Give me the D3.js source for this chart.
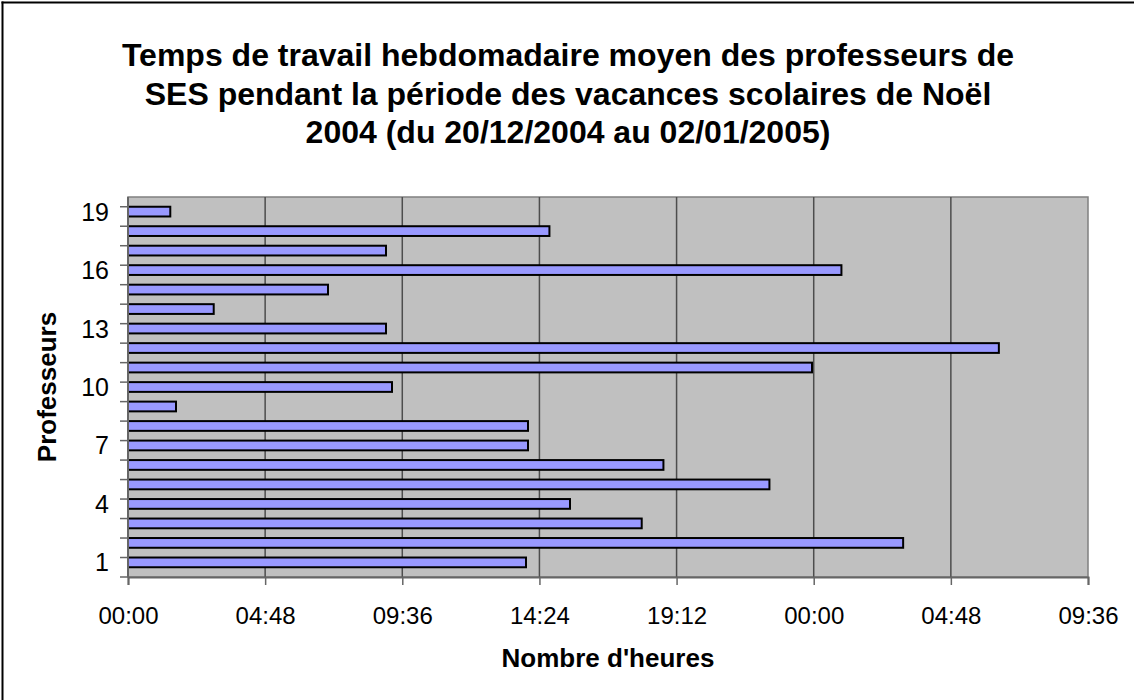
<!DOCTYPE html>
<meta charset="utf-8">
<script src="https://d3js.org/d3.v7.min.js"></script>
<style>
  body { margin: 0; background: #fff; font-family: Arial, "Liberation Sans", sans-serif; }
  svg { display: block; }
</style>
<div id="chart"></div>
<script>

// professors 1..19 and their average weekly hours (decimal hours)
var profs = d3.range(1, 20);
var hours = [13.93, 27.13, 17.98, 15.47, 22.45, 18.74, 14.0, 14.0, 1.68, 9.24,
             23.94, 30.48, 9.03, 3.0, 7.0, 24.97, 9.03, 14.75, 1.48];
var tickHours = [0, 4.8, 9.6, 14.4, 19.2, 24, 28.8, 33.6];
var yLabels = [1, 4, 7, 10, 13, 16, 19];
var titleLines = ["Temps de travail hebdomadaire moyen des professeurs de",
                  "SES pendant la période des vacances scolaires de Noël",
                  "2004 (du 20/12/2004 au 02/01/2005)"];

var W = 1134, H = 700;
var plot = {left: 128, right: 1088, top: 197, bottom: 577};

var svg = d3.select("#chart").append("svg")
    .attr("width", W).attr("height", H);

// frame (only top and left edges are visible)
svg.append("line").attr("x1", 2.5).attr("x2", 2.5).attr("y1", 1.5).attr("y2", H)
  .attr("stroke", "#000").attr("stroke-width", 2);
svg.append("line").attr("x1", 1.5).attr("x2", W).attr("y1", 2.5).attr("y2", 2.5)
  .attr("stroke", "#000").attr("stroke-width", 2);

// title
svg.append("text")
  .attr("text-anchor", "middle")
  .style("font-weight", "bold")
  .style("font-size", "32px")
  .selectAll("tspan")
  .data(titleLines)
  .enter().append("tspan")
    .attr("x", 568)
    .attr("y", function(d, i){ return 66 + i * 38.5; })
    .text(function(d){ return d; });

var x = d3.scaleLinear().domain([0, 33.6]).range([plot.left, plot.right]);
var y = d3.scaleBand().domain(profs).range([plot.bottom, plot.top]).padding(0.5);

// plot background
svg.append("rect")
  .attr("x", plot.left).attr("y", plot.top)
  .attr("width", plot.right - plot.left).attr("height", plot.bottom - plot.top)
  .attr("fill", "#c0c0c0")
  .attr("stroke", "#808080").attr("stroke-width", 1.5);

// vertical gridlines
svg.selectAll(".grid")
  .data(tickHours.slice(1, -1))
  .enter().append("line")
    .attr("x1", function(d){ return x(d); })
    .attr("x2", function(d){ return x(d); })
    .attr("y1", plot.top).attr("y2", plot.bottom)
    .attr("stroke", "#4d4d4d").attr("stroke-width", 1.5);

// bars
svg.selectAll(".bar")
  .data(hours)
  .enter().append("rect")
    .attr("x", plot.left)
    .attr("y", function(d, i){ return y(profs[i]); })
    .attr("width", function(d){ return x(d) - plot.left; })
    .attr("height", y.bandwidth())
    .attr("fill", "#9999ff")
    .attr("stroke", "#000").attr("stroke-width", 2);

function fmt(h) {
  var m = Math.round(h * 60) % (24 * 60);
  return d3.format("02d")(Math.floor(m / 60)) + ":" + d3.format("02d")(m % 60);
}

// x axis
var xAxis = svg.append("g")
  .attr("transform", "translate(0," + plot.bottom + ")")
  .call(d3.axisBottom(x).tickValues(tickHours).tickFormat(fmt).tickSize(8).tickPadding(22));
xAxis.select(".domain").attr("stroke", "#666").attr("stroke-width", 2);
xAxis.selectAll(".tick line").attr("stroke", "#666").attr("stroke-width", 1.5);
xAxis.selectAll("text")
  .style("font-family", "Arial, 'Liberation Sans', sans-serif")
  .style("font-size", "24px").attr("fill", "#000");

// y axis: ticks at category boundaries, labels every 3rd professor
var yAxis = svg.append("g").attr("transform", "translate(" + plot.left + ",0)");
yAxis.append("line")
  .attr("x1", 0).attr("x2", 0).attr("y1", plot.top).attr("y2", plot.bottom)
  .attr("stroke", "#666").attr("stroke-width", 2);
yAxis.selectAll(".ytick")
  .data(d3.range(0, profs.length + 1))
  .enter().append("line")
    .attr("x1", -8).attr("x2", 0)
    .attr("y1", function(i){ return plot.bottom - i * y.step(); })
    .attr("y2", function(i){ return plot.bottom - i * y.step(); })
    .attr("stroke", "#666").attr("stroke-width", 1.5);
yAxis.selectAll(".ylab")
  .data(yLabels)
  .enter().append("text")
    .attr("x", -19)
    .attr("y", function(d){ return y(d) + y.bandwidth() / 2; })
    .attr("dy", "0.36em")
    .attr("text-anchor", "end")
    .style("font-size", "25px")
    .text(function(d){ return d; });

// axis titles
svg.append("text")
  .attr("x", 608).attr("y", 667)
  .attr("text-anchor", "middle")
  .style("font-weight", "bold").style("font-size", "26px")
  .text("Nombre d'heures");

svg.append("text")
  .attr("transform", "translate(56,387)rotate(-90)")
  .attr("text-anchor", "middle")
  .style("font-weight", "bold").style("font-size", "26px")
  .text("Professeurs");

</script>
